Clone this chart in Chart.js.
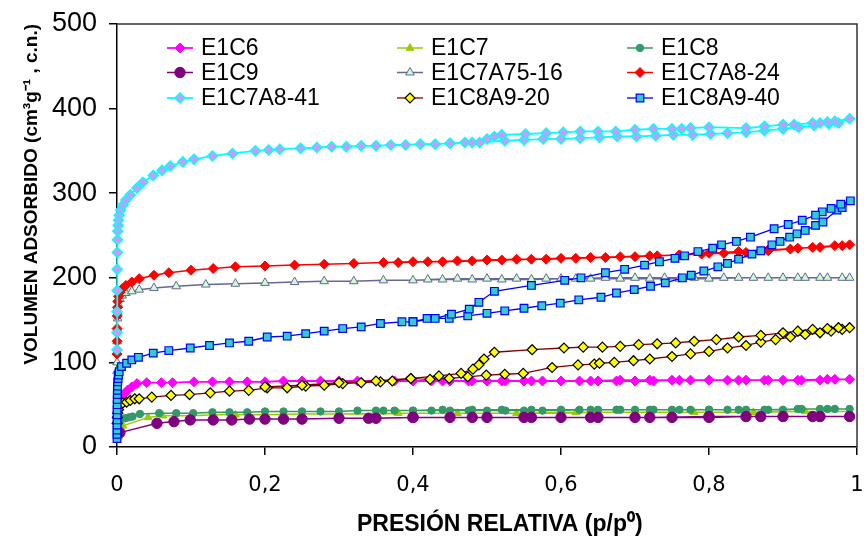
<!DOCTYPE html>
<html><head><meta charset="utf-8">
<script src="https://cdn.jsdelivr.net/npm/chart.js@4.4.1/dist/chart.umd.min.js"></script>
<style>html,body{margin:0;padding:0;background:#fff}canvas{display:block}</style>
</head><body>
<canvas id="c" width="864" height="538"></canvas>
<script>
const seriesNames = ['E1C6','E1C7','E1C8','E1C9','E1C7A75-16','E1C7A8-24','E1C7A8-41','E1C8A9-20','E1C8A9-40'];
const xTickLabels = ['0','0,2','0,4','0,6','0,8','1'];
const yTickLabels = ['0','100','200','300','400','500'];
const xTitle = '    PRESIÓN RELATIVA (p/p⁰)';
const yTitle = 'VOLUMEN ADSORBIDO (cm³g⁻¹ , c.n.)';

// E1C6
const e1c6P = [0.001,0.003,0.006,0.010,0.014,0.020,0.027,0.04,0.06,0.075,
  0.104,0.129,0.152,0.176,0.2,0.225,0.25,0.275,0.3,0.325,
  0.35,0.375,0.4,0.425,0.45,0.475,0.5,0.525,0.55,0.575,
  0.6,0.625,0.65,0.675,0.7,0.725,0.75,0.775,0.8,0.825,
  0.85,0.875,0.9,0.925,0.95,0.97,0.99,
  0.96,0.92,0.88,0.84,0.8,0.76,0.72,0.68,0.64,0.6,
  0.56,0.52,0.48,0.44,0.4];
const e1c6V = [40,52,58,63,67,71,75,76,76,76,
  77,77,77,77,77,78,78,78,78,78,
  78,78,78,78,78,78,78,78,78,78,
  78,78,78,78,78,78,79,79,79,79,
  79,79,79,79,79,80,80,
  80,79,79,79,79,79,79,79,78,78,
  78,78,78,78,78];
// E1C7
const e1c7P = [0.002,0.008,0.042,0.062,0.1,0.13,0.16,0.2,0.25,0.3,
  0.35,0.4,0.45,0.5,0.55,0.6,0.65,0.7,0.75,0.8,
  0.85,0.9,0.95,0.99,
  0.93,0.86,0.78,0.7,0.62,0.54,0.46,0.38,0.3];
const e1c7V = [12,25,35,37,37,38,38,38,39,39,
  39,40,40,40,40,40,41,41,41,41,
  41,42,42,42,
  42,41,41,41,41,40,40,40,39];
// E1C8
const e1c8P = [0.002,0.006,0.011,0.016,0.021,0.031,0.057,0.08,0.103,0.129,
  0.152,0.176,0.2,0.225,0.25,0.275,0.3,0.325,0.35,0.375,
  0.4,0.425,0.45,0.475,0.5,0.525,0.55,0.575,0.6,0.625,
  0.65,0.675,0.7,0.725,0.75,0.775,0.8,0.825,0.85,0.875,
  0.9,0.925,0.95,0.97,0.99,
  0.96,0.92,0.88,0.84,0.8,0.76,0.72,0.68,0.64,0.6,
  0.56,0.52,0.48,0.44,0.4,0.36];
const e1c8V = [27,33,34,35,36,39,40,40,40,41,
  41,41,42,42,42,42,42,43,43,43,
  43,43,43,43,43,43,43,43,43,44,
  44,44,44,44,44,44,44,44,44,44,
  44,45,45,45,45,
  45,45,44,44,44,44,44,44,44,44,
  44,44,44,44,43,43];
// E1C9
const e1c9P = [0.004,0.054,0.077,0.099,0.13,0.155,0.179,0.2,0.225,0.25,
  0.3,0.35,0.4,0.45,0.5,0.55,0.6,0.65,0.7,0.75,
  0.8,0.85,0.9,0.95,0.99,
  0.94,0.87,0.8,0.72,0.64,0.56,0.48,0.4,0.34];
const e1c9V = [17,28,30,32,32,32,33,33,33,33,
  34,34,35,35,35,35,35,35,35,35,
  35,36,36,36,36,
  36,36,36,35,35,35,35,35,34];
// E1C7A75-16
const a7516P = [0.00002,0.00005,0.0001,0.0002,0.0004,0.0007,0.001,0.002,0.004,0.007,
  0.012,0.02,0.03,0.05,0.08,0.12,0.16,0.2,0.24,0.28,
  0.32,0.36,0.4,0.44,0.48,0.52,0.56,0.6,0.64,0.68,
  0.72,0.76,0.8,0.84,0.88,0.92,0.95,0.98,0.99,
  0.96,0.93,0.9,0.86,0.82,0.78,0.74,0.7,0.66,0.62,
  0.58,0.54,0.5,0.46,0.42];
const a7516V = [90,100,112,125,140,152,160,168,175,179,
  182,184,186,188,190,192,193,194,195,196,
  196,197,197,198,198,198,198,199,199,199,
  199,199,199,200,200,200,200,200,200,
  200,200,200,200,200,200,200,200,200,199,
  199,199,199,199,198];
// E1C7A8-24
const a824P = [0.00002,0.00005,0.0001,0.0003,0.0006,0.001,0.002,0.004,0.007,0.012,
  0.02,0.03,0.05,0.07,0.1,0.13,0.16,0.2,0.24,0.28,
  0.32,0.36,0.4,0.44,0.48,0.52,0.56,0.6,0.64,0.68,
  0.72,0.76,0.8,0.84,0.88,0.92,0.95,0.98,0.99,
  0.97,0.94,0.91,0.88,0.85,0.82,0.79,0.76,0.73,0.7,
  0.66,0.62,0.58,0.54,0.5,0.46,0.42,0.38];
const a824V = [110,125,140,155,165,172,178,183,187,191,
  195,199,203,206,209,211,213,214,215,216,
  217,218,219,219,220,221,222,223,224,225,
  226,227,229,231,233,235,236,238,239,
  238,236,234,232,230,229,228,227,226,225,
  224,223,222,222,221,220,219,218];
// E1C7A8-41
const a841P = [0.00001,0.00003,0.00006,0.0001,0.0002,0.0004,0.0007,0.001,0.0015,0.002,
  0.003,0.005,0.008,0.012,0.018,0.027,0.035,0.049,0.061,0.072,
  0.089,0.104,0.129,0.156,0.187,0.205,0.22,0.248,0.27,0.29,
  0.31,0.33,0.35,0.37,0.39,0.41,0.43,0.45,0.47,0.49,
  0.524,0.55,0.576,0.6,0.626,0.652,0.676,0.702,0.728,0.752,
  0.778,0.802,0.825,0.85,0.875,0.9,0.921,0.942,0.962,0.975,
  0.99,
  0.97,0.96,0.95,0.94,0.915,0.9,0.875,0.85,0.8,0.775,
  0.763,0.75,0.725,0.7,0.674,0.65,0.626,0.603,0.58,0.552,
  0.52,0.51,0.5,0.48,0.45];
const a841V = [115,135,160,185,210,230,245,255,262,268,
  274,280,286,292,298,306,313,321,327,332,
  337,340,344,347,350,351,352,353,354,355,
  355,356,356,357,357,358,358,359,360,360,
  362,363,364,364,365,366,367,367,368,369,
  369,370,371,372,374,376,378,380,382,383,
  388,
  385,384,383,383,381,381,379,377,378,377,
  376,376,376,375,373,373,373,372,371,370,
  369,367,364,360,359];
// E1C8A9-20
const a920P = [0.0001,0.0005,0.001,0.002,0.004,0.008,0.013,0.018,0.024,0.03,
  0.047,0.073,0.098,0.126,0.152,0.178,0.203,0.23,0.255,0.28,
  0.305,0.33,0.356,0.372,0.397,0.423,0.449,0.474,0.499,0.524,
  0.549,0.588,0.623,0.645,0.652,0.672,0.698,0.72,0.75,0.775,
  0.8,0.825,0.85,0.87,0.89,0.91,0.93,0.95,0.965,0.98,
  0.99,
  0.975,0.96,0.94,0.92,0.9,0.87,0.84,0.81,0.78,0.755,
  0.73,0.705,0.68,0.656,0.63,0.604,0.561,0.51,0.496,0.489,
  0.481,0.465,0.435,0.397,0.35,0.3,0.25,0.2];
const a920V = [28,35,40,44,50,52,53,55,57,57,
  59,61,62,64,66,67,70,70,72,73,
  75,76,77,78,81,80,81,83,85,86,
  87,94,97,98,99,100,102,104,107,110,
  113,117,120,124,127,130,133,135,137,139,
  141,
  141,140,139,137,135,132,130,127,125,123,
  122,121,119,118,118,117,115,112,104,97,
  92,87,84,81,78,76,73,71];
// E1C8A9-40
const a940P = [0.00001,0.00002,0.00003,0.00005,0.00007,0.0001,0.00015,0.0002,0.0003,0.0004,
  0.0005,0.0007,0.001,0.0015,0.002,0.003,0.006,0.013,0.02,0.029,
  0.049,0.07,0.099,0.125,0.152,0.178,0.203,0.23,0.255,0.28,
  0.305,0.33,0.356,0.385,0.4,0.419,0.449,0.474,0.5,0.524,
  0.55,0.574,0.599,0.624,0.654,0.675,0.699,0.721,0.741,0.764,
  0.776,0.793,0.812,0.825,0.84,0.858,0.87,0.885,0.896,0.909,
  0.919,0.93,0.944,0.954,0.973,0.98,0.991,
  0.978,0.965,0.953,0.944,0.926,0.907,0.888,0.856,0.837,0.817,
  0.805,0.785,0.767,0.754,0.733,0.713,0.686,0.66,0.627,0.605,
  0.56,0.51,0.489,0.476,0.452,0.43,0.4];
const a940V = [10,15,20,26,32,38,44,50,56,62,
  67,72,77,81,85,89,95,99,103,106,
  111,114,117,120,123,125,130,131,134,137,
  140,142,146,148,148,152,152,155,158,161,
  164,167,170,174,177,182,186,190,194,200,
  203,208,213,217,222,228,232,239,243,248,
  252,256,262,266,280,283,291,
  287,282,278,274,268,263,258,248,243,239,
  235,231,226,223,219,215,210,206,200,197,
  191,184,171,163,157,152,148];

const seriesP = [e1c6P,e1c7P,e1c8P,e1c9P,a7516P,a824P,a841P,a920P,a940P];
const seriesV = [e1c6V,e1c7V,e1c8V,e1c9V,a7516V,a824V,a841V,a920V,a940V];

const styles = [
  {line:'#FF00FF', fill:'#FF00FF', border:'#FF00FF', shape:'rectRot', r:5, bw:1, lw:1.8},
  {line:'#99CC00', fill:'#99CC00', border:'#99CC00', shape:'triangle', r:4.5, bw:1, lw:1.5},
  {line:'#339966', fill:'#339966', border:'#339966', shape:'circle', r:3.7, bw:1, lw:1.5},
  {line:'#800080', fill:'#800080', border:'#800080', shape:'circle', r:5.2, bw:1, lw:1.5},
  {line:'#666699', fill:'#CCFFCC', border:'#666699', shape:'triangle', r:5, bw:1, lw:1.5},
  {line:'#FF0000', fill:'#FF0000', border:'#FF0000', shape:'rectRot', r:5, bw:1, lw:1.5},
  {line:'#00FFFF', fill:'#CC99FF', border:'#00FFFF', shape:'rectRot', r:5, bw:1.5, lw:1.8},
  {line:'#800000', fill:'#FFFF00', border:'#000000', shape:'rectRot', r:5, bw:1.2, lw:1.3},
  {line:'#0000FF', fill:'#33CCCC', border:'#0000FF', shape:'rect', r:5.4, bw:1.2, lw:1.3}
];

const datasets = seriesNames.map((name, i) => {
  const s = styles[i];
  const P = seriesP[i], V = seriesV[i];
  const n = Math.min(P.length, V.length);
  const pts = [];
  for (let k = 0; k < n; k++) pts.push({x: P[k], y: V[k]});
  return {
    label: name, data: pts, showLine: true, tension: 0,
    borderColor: s.line, backgroundColor: s.fill, borderWidth: s.lw,
    pointStyle: s.shape, pointRadius: s.r, pointHoverRadius: s.r,
    pointBackgroundColor: s.fill, pointBorderColor: s.border, pointBorderWidth: s.bw,
    clip: false, order: 8 - i
  };
});

function drawMarker(ctx, st, x, y) {
  ctx.save();
  ctx.fillStyle = st.fill; ctx.strokeStyle = st.border; ctx.lineWidth = st.bw;
  const opts = {pointStyle: st.shape, radius: st.r, borderWidth: st.bw, rotation: 0};
  if (window.Chart && Chart.helpers && Chart.helpers.drawPoint) {
    Chart.helpers.drawPoint(ctx, opts, x, y);
  } else {
    ctx.beginPath(); ctx.arc(x, y, st.r, 0, Math.PI*2); ctx.fill(); ctx.stroke();
  }
  ctx.restore();
}

const bgPlugin = {
  id: 'bg',
  beforeDraw(chart) {
    const ctx = chart.ctx; ctx.save(); ctx.fillStyle = '#fff';
    ctx.fillRect(0, 0, chart.width, chart.height); ctx.restore();
  }
};
const boxPlugin = {
  id: 'box',
  beforeDatasetsDraw(chart) {
    const a = chart.chartArea, ctx = chart.ctx;
    ctx.save(); ctx.strokeStyle = '#333'; ctx.lineWidth = 1.5;
    ctx.beginPath();
    ctx.moveTo(a.left, a.top); ctx.lineTo(a.right, a.top); ctx.lineTo(a.right, a.bottom);
    ctx.stroke(); ctx.restore();
  }
};
const legendPlugin = {
  id: 'customLegend',
  afterDraw(chart) {
    const ctx = chart.ctx;
    const cols = [167, 397, 627];
    const rows = [48, 72.5, 98];
    ctx.save();
    ctx.font = '23px "Liberation Sans", Arial, sans-serif';
    ctx.textBaseline = 'middle'; ctx.textAlign = 'left'; ctx.fillStyle = '#000';
    seriesNames.forEach((name, i) => {
      const st = styles[i];
      const x0 = cols[i % 3], y = rows[Math.floor(i / 3)];
      ctx.save(); ctx.strokeStyle = st.line; ctx.lineWidth = st.lw;
      ctx.beginPath(); ctx.moveTo(x0, y); ctx.lineTo(x0 + 26, y); ctx.stroke(); ctx.restore();
      drawMarker(ctx, st, x0 + 13, y);
      ctx.fillStyle = '#000';
      ctx.fillText(name, x0 + 34, y + 1);
    });
    ctx.restore();
  }
};

Chart.defaults.font.family = '"Liberation Sans", Arial, sans-serif';
Chart.defaults.color = '#000';

new Chart(document.getElementById('c').getContext('2d'), {
  type: 'scatter',
  data: {datasets},
  options: {
    responsive: false, animation: false, devicePixelRatio: 1,
    layout: {padding: {top: 24, right: 7, left: 0, bottom: 0}},
    plugins: {legend: {display: false}, tooltip: {enabled: false}},
    events: [],
    scales: {
      x: {
        type: 'linear', min: 0, max: 1, position: 'bottom',
        ticks: {stepSize: 0.2, autoSkip: false, maxRotation: 0,
          callback: (v, i) => xTickLabels[i],
          font: {family: '"DejaVu Sans", sans-serif', size: 21}, color: '#000', padding: 18},
        grid: {display: true, drawOnChartArea: false, drawTicks: true, tickLength: 8, color: '#000', lineWidth: 1.5},
        border: {display: true, color: '#000', width: 1.5},
        title: {display: true, text: xTitle, font: {size: 23, weight: 'bold'}, color: '#000', padding: {top: 0, bottom: 0}},
        afterFit: (s) => { s.height = 91; s.paddingLeft = 0; s.paddingRight = 0; }
      },
      y: {
        type: 'linear', min: 0, max: 500, position: 'left',
        ticks: {stepSize: 100, callback: (v, i) => yTickLabels[i], font: {size: 27}, color: '#000', padding: 12},
        grid: {display: true, drawOnChartArea: false, drawTicks: true, tickLength: 8, color: '#000', lineWidth: 1.5},
        border: {display: true, color: '#000', width: 1.5},
        title: {display: true, text: yTitle, align: 'end', font: {size: 19, weight: 'bold'}, color: '#000', padding: {top: 20, bottom: 0}},
        afterFit: (s) => { s.width = 117; s.paddingTop = 0; s.paddingBottom = 0; }
      }
    }
  },
  plugins: [bgPlugin, boxPlugin, legendPlugin]
});
</script>
</body></html>
